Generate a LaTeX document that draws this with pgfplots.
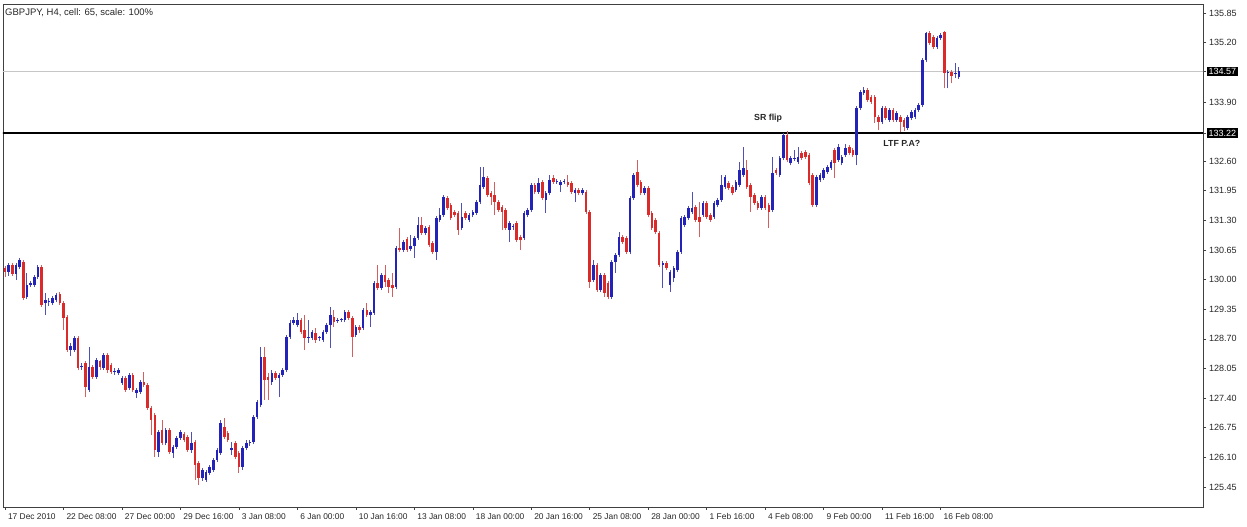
\documentclass[border=0pt]{standalone}
\usepackage{pgfplots}
\pgfplotsset{compat=1.18}
\usepackage{pgfplotstable}
\usepackage{fontspec}
\setmainfont{Liberation Sans}
\definecolor{bull}{RGB}{35,35,185}
\definecolor{bear}{RGB}{218,42,42}
\definecolor{bullw}{RGB}{80,80,185}
\definecolor{bearw}{RGB}{212,95,95}
\pgfplotsset{colormap={cwick}{color=(bearw) color=(bullw)}, colormap={cbody}{color=(bear) color=(bull)}}

\pgfplotstableread{
i o h l c b
0 130.25 130.30 130.06 130.17 0
1 130.17 130.36 130.08 130.32 1
2 130.32 130.36 130.08 130.12 0
3 130.12 130.36 129.99 130.32 1
4 130.28 130.47 130.23 130.43 1
5 130.39 130.43 129.55 129.60 0
6 129.62 130.15 129.57 129.88 1
7 129.88 129.97 129.84 129.93 1
8 129.88 130.10 129.84 130.06 1
9 130.06 130.32 130.01 130.28 1
10 130.28 130.32 129.40 129.44 0
11 129.49 129.71 129.22 129.55 1
12 129.51 129.60 129.42 129.53 1
13 129.49 129.64 129.44 129.60 1
14 129.55 129.71 129.51 129.66 1
15 129.68 129.73 129.44 129.49 0
16 129.49 129.53 128.89 129.16 0
17 129.18 129.22 128.41 128.46 0
18 128.46 128.60 128.32 128.54 1
19 128.46 128.76 128.41 128.72 1
20 128.72 128.76 128.02 128.06 0
21 128.08 128.17 128.02 128.10 1
22 128.17 128.21 127.42 127.64 0
23 127.58 128.52 127.53 128.08 1
24 128.08 128.12 127.82 127.86 0
25 127.86 128.28 127.82 128.24 1
26 128.21 128.24 128.02 128.08 0
27 128.06 128.39 128.02 128.35 1
28 128.35 128.39 127.95 128.02 0
29 128.13 128.17 127.93 127.97 0
30 127.97 128.06 127.91 127.99 1
31 127.95 128.06 127.91 128.02 1
32 127.73 127.88 127.69 127.84 1
33 127.84 127.88 127.53 127.58 0
34 127.62 127.95 127.58 127.91 1
35 127.91 127.95 127.53 127.58 0
36 127.51 127.62 127.40 127.58 1
37 127.53 127.80 127.49 127.75 1
38 127.75 127.97 127.64 127.69 0
39 127.69 127.73 127.14 127.18 0
40 127.18 127.23 126.59 126.92 0
41 127.03 127.07 126.11 126.26 0
42 126.22 126.70 126.11 126.66 1
43 126.70 126.92 126.37 126.41 0
44 126.41 126.74 126.37 126.70 1
45 126.70 126.74 126.17 126.22 0
46 126.20 126.37 126.09 126.33 1
47 126.33 126.57 126.28 126.52 1
48 126.52 126.70 126.48 126.66 1
49 126.61 126.66 126.44 126.48 0
50 126.55 126.59 126.22 126.26 0
51 126.26 126.66 126.20 126.41 1
52 126.44 126.48 125.60 125.93 0
53 125.98 126.02 125.49 125.65 0
54 125.65 125.87 125.58 125.82 1
55 125.60 125.82 125.56 125.78 1
56 125.76 125.93 125.71 125.89 1
57 125.82 126.09 125.78 126.04 1
58 126.04 126.30 126.00 126.26 1
59 126.20 126.92 126.15 126.85 1
60 126.77 126.96 126.50 126.55 0
61 126.63 126.68 126.44 126.48 0
62 126.26 126.44 126.15 126.30 1
63 126.41 126.46 126.06 126.11 0
64 126.20 126.24 125.76 125.89 0
65 125.89 126.35 125.82 126.30 1
66 126.30 126.48 126.26 126.41 1
67 126.41 126.48 126.35 126.44 1
68 126.44 127.03 126.39 126.99 1
69 126.99 127.36 126.94 127.31 1
70 127.25 128.52 127.20 128.30 1
71 128.30 128.52 127.36 127.80 0
72 127.86 127.95 127.36 127.80 0
73 127.75 128.02 127.69 127.95 1
74 127.95 127.99 127.80 127.84 0
75 127.84 127.95 127.42 127.91 1
76 127.91 128.06 127.86 128.02 1
77 128.02 128.78 127.97 128.74 1
78 128.74 129.11 128.70 129.05 1
79 129.05 129.18 129.00 129.11 1
80 129.00 129.27 128.96 129.11 1
81 129.11 129.16 128.81 128.85 0
82 128.89 129.22 128.46 128.72 0
83 128.72 129.11 128.61 128.74 1
84 128.72 128.89 128.68 128.85 1
85 128.83 128.94 128.61 128.68 0
86 128.72 128.76 128.65 128.72 1
87 128.68 128.89 128.63 128.85 1
88 128.85 129.05 128.81 129.00 1
89 129.00 129.40 128.50 129.22 1
90 129.18 129.33 128.96 129.07 0
91 129.09 129.16 129.05 129.11 1
92 129.11 129.16 129.07 129.11 1
93 129.11 129.33 129.07 129.29 1
94 129.29 129.33 129.11 129.16 0
95 129.16 129.20 128.30 128.74 0
96 128.78 129.00 128.74 128.96 1
97 128.96 129.00 128.83 128.89 0
98 128.94 129.38 128.89 129.33 1
99 129.33 129.49 129.18 129.22 0
100 129.22 129.33 128.96 129.29 1
101 129.27 129.97 129.22 129.93 1
102 129.93 130.32 129.77 129.82 0
103 129.82 130.15 129.77 130.10 1
104 130.10 130.32 129.84 129.95 0
105 129.99 130.04 129.71 129.84 0
106 129.88 130.15 129.62 129.82 0
107 129.84 130.74 129.79 130.69 1
108 130.69 131.13 130.61 130.65 0
109 130.65 130.87 130.61 130.83 1
110 130.89 130.93 130.61 130.65 0
111 130.67 130.98 130.63 130.74 1
112 130.74 130.96 130.47 130.91 1
113 130.91 131.37 130.87 131.20 1
114 131.20 131.37 130.98 131.02 0
115 131.02 131.18 130.98 131.13 1
116 131.15 131.20 130.72 130.76 0
117 130.80 130.85 130.56 130.61 0
118 130.61 131.39 130.43 131.35 1
119 131.31 131.57 131.26 131.42 1
120 131.42 131.85 131.37 131.81 1
121 131.79 131.83 131.53 131.57 0
122 131.64 131.68 131.31 131.35 0
123 131.48 131.53 131.37 131.42 0
124 131.46 131.50 130.98 131.09 0
125 131.13 131.68 131.09 131.37 1
126 131.46 131.50 131.31 131.35 0
127 131.31 131.46 131.26 131.42 1
128 131.42 131.53 131.37 131.48 1
129 131.46 131.75 131.42 131.70 1
130 131.70 132.47 131.66 132.08 1
131 132.03 132.47 131.99 132.25 1
132 132.23 132.27 131.81 131.85 0
133 131.90 131.94 131.64 131.81 0
134 131.85 132.14 131.42 131.70 0
135 131.70 131.75 131.48 131.53 0
136 131.59 131.64 131.09 131.48 0
137 131.53 131.57 131.09 131.13 0
138 131.09 131.29 130.83 131.24 1
139 131.15 131.22 131.09 131.15 1
140 131.24 131.29 130.83 130.87 0
141 130.93 130.98 130.65 130.87 0
142 130.91 131.50 130.87 131.46 1
143 131.42 131.57 131.37 131.53 1
144 131.53 132.12 131.48 132.08 1
145 132.08 132.12 131.88 131.92 0
146 131.92 132.23 131.88 132.12 1
147 132.14 132.19 131.75 131.79 0
148 131.75 131.94 131.46 131.90 1
149 131.90 132.30 131.85 132.19 1
150 132.23 132.30 132.10 132.14 0
151 132.14 132.21 132.10 132.16 1
152 132.08 132.19 131.92 132.14 1
153 132.14 132.21 132.10 132.16 1
154 132.14 132.30 132.03 132.08 0
155 132.12 132.16 131.88 131.92 0
156 131.90 132.01 131.70 131.97 1
157 131.97 132.01 131.85 131.90 0
158 131.90 132.01 131.85 131.97 1
159 131.92 131.97 131.44 131.48 0
160 131.48 131.53 129.82 129.95 0
161 129.99 130.43 129.95 130.32 1
162 130.32 130.36 129.73 129.77 0
163 129.77 130.15 129.73 130.10 1
164 130.10 130.15 129.62 129.71 0
165 129.93 129.97 129.57 129.62 0
166 129.62 130.43 129.57 130.39 1
167 130.39 130.58 130.15 130.54 1
168 130.54 131.04 130.50 130.93 1
169 130.93 130.98 130.78 130.83 0
170 130.91 130.96 130.56 130.61 0
171 130.61 131.83 130.56 131.79 1
172 131.79 132.34 131.75 132.30 1
173 132.36 132.62 132.03 132.08 0
174 132.14 132.19 131.85 131.90 0
175 131.90 132.05 131.85 132.01 1
176 132.01 132.05 131.37 131.42 0
177 131.46 131.50 131.09 131.13 0
178 131.31 131.35 131.00 131.04 0
179 131.02 131.07 130.28 130.32 0
180 130.32 130.41 129.82 130.36 1
181 130.36 130.41 130.21 130.25 0
182 129.88 130.21 129.73 130.17 1
183 130.04 130.30 129.95 130.25 1
184 130.21 130.65 130.17 130.61 1
185 130.61 131.39 130.56 131.35 1
186 131.20 131.42 131.15 131.37 1
187 131.35 131.61 131.31 131.57 1
188 131.48 131.92 131.44 131.57 1
189 131.59 131.64 131.26 131.31 0
190 131.37 131.70 130.93 131.26 0
191 131.42 131.72 131.37 131.68 1
192 131.68 131.72 131.33 131.37 0
193 131.42 131.46 131.26 131.31 0
194 131.37 131.72 131.33 131.68 1
195 131.64 131.79 131.59 131.75 1
196 131.75 132.30 131.70 132.08 1
197 132.03 132.30 131.99 132.25 1
198 132.12 132.16 131.97 132.01 0
199 132.03 132.08 131.85 131.90 0
200 131.97 132.19 131.92 132.14 1
201 132.08 132.58 132.03 132.41 1
202 132.30 132.91 132.25 132.45 1
203 132.41 132.62 131.99 132.03 0
204 132.08 132.12 131.48 131.81 0
205 131.85 131.90 131.64 131.68 0
206 131.68 131.72 131.53 131.57 0
207 131.57 131.85 131.53 131.81 1
208 131.81 131.85 131.53 131.57 0
209 131.64 131.68 131.13 131.48 0
210 131.53 132.69 131.48 132.34 1
211 132.41 132.45 132.30 132.34 0
212 132.30 132.71 132.25 132.67 1
213 132.67 133.22 132.62 133.17 1
214 133.17 133.26 132.58 132.62 0
215 132.56 132.71 132.51 132.67 1
216 132.65 132.84 132.60 132.65 1
217 132.58 132.91 132.54 132.69 1
218 132.78 132.82 132.62 132.67 0
219 132.80 132.84 132.65 132.69 0
220 132.73 132.78 132.08 132.12 0
221 132.30 132.34 131.59 131.64 0
222 131.64 132.30 131.59 132.25 1
223 132.19 132.34 132.14 132.30 1
224 132.23 132.45 132.19 132.41 1
225 132.36 132.52 132.32 132.47 1
226 132.45 132.62 132.41 132.58 1
227 132.84 132.89 132.23 132.56 0
228 132.62 132.97 132.58 132.91 1
229 132.56 132.73 132.51 132.69 1
230 132.73 132.97 132.69 132.89 1
231 132.91 132.95 132.73 132.78 0
232 132.84 132.89 132.69 132.73 0
233 132.73 133.81 132.51 133.77 1
234 133.77 134.16 133.72 134.12 1
235 134.10 134.23 134.05 134.16 1
236 134.16 134.20 133.90 133.94 0
237 134.01 134.05 133.85 133.90 0
238 134.01 134.05 133.44 133.57 0
239 133.57 133.61 133.28 133.46 0
240 133.46 133.81 133.41 133.77 1
241 133.77 133.81 133.50 133.55 0
242 133.50 133.77 133.46 133.72 1
243 133.72 133.77 133.46 133.50 0
244 133.50 133.70 133.46 133.66 1
245 133.57 133.61 133.24 133.46 0
246 133.50 133.55 133.26 133.35 0
247 133.33 133.61 133.28 133.57 1
248 133.55 133.72 133.50 133.68 1
249 133.57 133.77 133.52 133.72 1
250 133.72 133.88 133.68 133.83 1
251 133.83 134.86 133.79 134.82 1
252 134.82 135.43 134.77 135.41 1
253 135.41 135.45 135.15 135.19 0
254 135.32 135.37 135.06 135.10 0
255 135.10 135.35 135.06 135.30 1
256 135.30 135.41 135.26 135.37 1
257 135.43 135.45 134.20 134.53 0
258 134.53 134.60 134.20 134.53 1
259 134.55 134.60 134.31 134.47 0
260 134.51 134.75 134.42 134.51 1
261 134.45 134.66 134.40 134.57 1
}\candles

\begin{document}
\begin{tikzpicture}
\useasboundingbox (0,0) rectangle (1247pt,527pt);
\begin{axis}[
  at={(3pt,20pt)}, anchor=south west,
  width=1200pt, height=503pt, scale only axis,
  xmin=-0.55, xmax=327.8, ymin=125.01, ymax=136.05,
  axis line style={draw=black!75, line width=0.8pt},
  tick align=outside, major tick length=3pt,
  tick style={draw=black!75, line width=0.6pt},
  xtick={0,16,...,256},
  xticklabels={17 Dec 2010,22 Dec 08:00,27 Dec 00:00,29 Dec 16:00,3 Jan 08:00,6 Jan 00:00,10 Jan 16:00,13 Jan 08:00,18 Jan 00:00,20 Jan 16:00,25 Jan 08:00,28 Jan 00:00,1 Feb 16:00,4 Feb 08:00,9 Feb 00:00,11 Feb 16:00,16 Feb 08:00},
  xtick pos=bottom,
  xticklabel style={font=\fontsize{8.4}{10}\selectfont, anchor=north west, xshift=-0.5pt, text=black!85},
  ytick={125.45,126.10,126.75,127.40,128.05,128.70,129.35,130.00,130.65,131.30,131.95,132.60,133.90,135.20,135.85},
  ytick pos=right, yticklabel pos=right,
  yticklabel style={font=\fontsize{9}{10}\selectfont, text=black!85, xshift=-0.5pt,
    /pgf/number format/fixed, /pgf/number format/fixed zerofill, /pgf/number format/precision=2, /pgf/number format/assume math mode=true},
  extra y ticks={133.22,134.57},
  extra y tick style={yticklabel style={fill=black, text=white, inner sep=1.4pt, xshift=1.5pt}},
  scaled y ticks=false,
  point meta min=0, point meta max=1,
  clip=true,
]
\addplot[gray!45, line width=0.7pt, forget plot] coordinates {(-5,134.57) (340,134.57)};
\addplot[black, line width=1.7pt, forget plot] coordinates {(-5,133.22) (340,133.22)};

% wicks
\addplot[forget plot, colormap name=cwick, line width=0.9pt, point meta=\thisrow{b},
  quiver={u=0, v=\thisrow{h}-\thisrow{l}, colored}]
  table[x=i, y=l] {\candles};
% bodies
\addplot[forget plot, colormap name=cbody, line width=2.6pt, point meta=\thisrow{b},
  quiver={u=0, v={max(abs(\thisrow{o}-\thisrow{c}),0.026)}, colored}]
  table[x=i, y expr={min(\thisrow{o},\thisrow{c})}] {\candles};

\node[font=\bfseries\fontsize{8.8}{10}\selectfont, text=black!85] at (axis cs:208.8,133.55) {SR flip};
\node[font=\bfseries\fontsize{8.8}{10}\selectfont, text=black!85] at (axis cs:245.4,133.00) {LTF P.A?};
\node[anchor=base west, inner sep=0pt, font=\fontsize{9.5}{11}\selectfont, text=black!85] at ([xshift=2pt,yshift=-12pt]rel axis cs:0,1) {GBPJPY, H4, cell: 65, scale: 100\%};
\end{axis}
\end{tikzpicture}
\end{document}
